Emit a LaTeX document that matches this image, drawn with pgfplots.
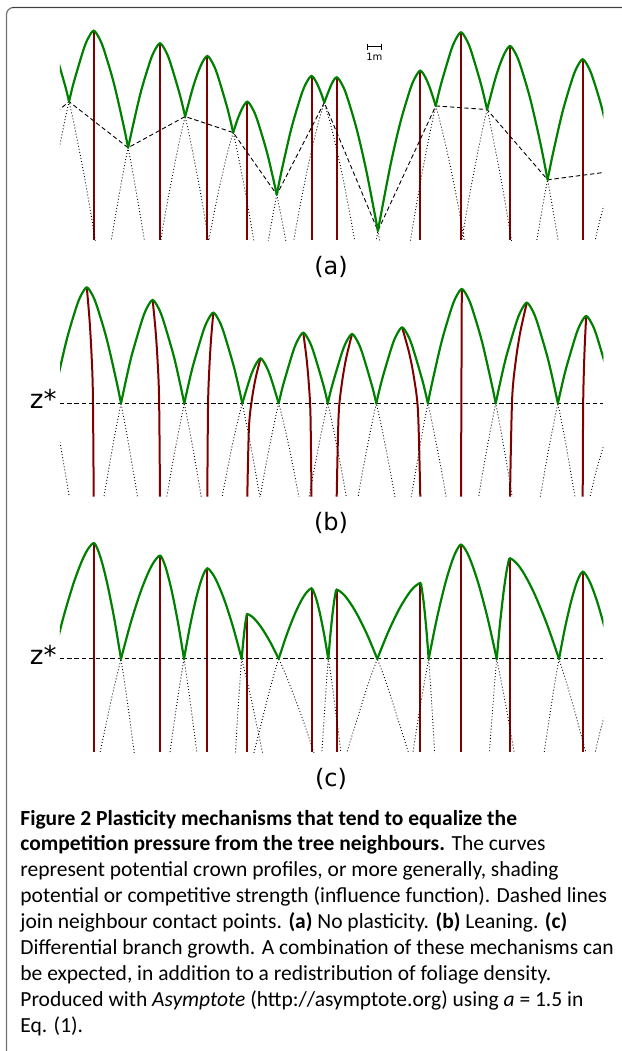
\documentclass[border=0pt]{standalone}
\usepackage{fontspec}
\setmainfont{Carlito}
\newfontfamily\lblfont{DejaVu Sans}
\usepackage{pgfplots}
\pgfplotsset{compat=1.18}
\usepackage{pgfplotstable}

\definecolor{crown}{RGB}{0,128,0}
\definecolor{trunk}{RGB}{128,0,0}

\pgfplotsset{
  panelax/.style={anchor=south west, x=0.5pt, y=0.5pt, y dir=reverse,
    xmin=60, xmax=603.3, ymin=20, ymax=240, hide axis, clip=true},
  dotprof/.style={smooth, no markers, black, line width=0.45pt, dash pattern=on 0.45pt off 1.1pt},
  envline/.style={smooth, no markers, crown, line width=1.1pt, line cap=round},
  stemline/.style={no markers, trunk, line width=1pt},
  contactline/.style={no markers, black, line width=0.45pt, dash pattern=on 2.2pt off 1.4pt},
}

% ---------- panel (a): no plasticity (pixel-like coordinates, y downwards)
\pgfplotstableread{
x y
35 51.6
40 39.8
45 33.3
50 39.8
55 51.6
65 85.2
69.05 101.65
75 128.6
85 180.0
95 238.4
105 302.9
}\tAa
\pgfplotstableread{
x y
33.7 300.3
43.7 235.8
53.7 177.4
63.7 126.0
69.05 101.65
73.7 82.6
83.7 49.0
88.7 37.2
93.7 30.7
98.7 37.2
103.7 49.0
113.7 82.6
123.7 126.0
128.1 147.7
133.7 177.4
143.7 235.8
153.7 300.3
}\tAb
\pgfplotstableread{
x y
100 312.9
110 248.4
120 190.0
128.1 147.7
140 95.2
150 61.6
155 49.8
160 43.3
165 49.8
170 61.6
180 95.2
185.15 116.5
190 138.6
200 190.0
210 248.4
}\tAc
\pgfplotstableread{
x y
147.3 325.6
157.3 261.1
167.3 202.7
177.3 151.3
185.15 116.5
192.3 89.7
197.3 74.3
202.3 62.5
207.3 56
212.3 62.5
217.3 74.3
227.3 107.9
233.2 132.5
237.3 151.3
247.3 202.7
257.3 261.1
}\tAd
\pgfplotstableread{
x y
207.3 248.4
217.3 197.0
227.3 153.6
233.2 132.5
237.3 120.0
242.3 108.2
247.3 101.7
252.3 108.2
257.3 120.0
267.3 153.6
276.8 194.6
287.3 248.4
}\tAe
\pgfplotstableread{
x y
261.5 281.1
271.5 222.7
276.8 194.6
281.5 171.3
291.5 127.9
301.5 94.3
306.5 82.5
311.5 76
316.5 82.5
321.5 94.3
324.3 102.6
331.5 127.9
341.5 171.3
351.5 222.7
361.5 281.1
}\tAf
\pgfplotstableread{
x y
286.7 282.4
296.7 224.0
306.7 172.6
316.7 129.2
324.3 102.6
331.7 83.8
336.7 77.3
341.7 83.8
346.7 95.6
356.7 129.2
366.7 172.6
377.9 230.8
386.7 282.4
}\tAg
\pgfplotstableread{
x y
370.3 275.8
377.9 230.8
390.3 166.0
400.3 122.6
410.3 89.0
415.3 77.2
420.3 70.7
425.3 77.2
430.3 89.0
435.75 105.9
440.3 122.6
450.3 166.0
460.3 217.4
470.3 275.8
}\tAh
\pgfplotstableread{
x y
401 301.9
411 237.4
421 179.0
431 127.6
435.75 105.9
441 84.2
451 50.6
456 38.8
461 32.3
466 38.8
471 50.6
481 84.2
487.1 109.55
491 127.6
501 179.0
511 237.4
521 301.9
}\tAi
\pgfplotstableread{
x y
450 315.6
460 251.1
470 192.7
480 141.3
487.1 109.55
495 79.7
500 64.3
505 52.5
510 46
515 52.5
520 64.3
530 97.9
540 141.3
547.63 179.8
560 251.1
}\tAj
\pgfplotstableread{
x y
532.7 264.4
542.7 206.0
547.63 179.8
552.7 154.6
562.7 111.2
572.7 77.6
577.7 65.8
582.7 59.3
587.7 65.8
592.7 77.6
602.7 111.2
616 170.85
622.7 206.0
632.7 264.4
}\tAk
\pgfplotstableread{
x y
590.7 260.3
600.7 216.9
610.7 183.3
616 170.85
620.7 165
625.7 171.5
}\tAl

% ---------- panel (b): leaning
\pgfplotstableread{
x y
38.95 85.2
48.95 128.6
52.6 146.6
58.95 180.0
68.95 238.4
78.95 302.9
}\tBa
\pgfplotstableread{
x y
26.8 300.3
36.8 235.8
46.8 177.4
52.6 146.6
56.8 126.0
66.8 82.6
76.8 49.0
81.8 37.2
86.8 30.7
91.8 37.2
96.8 49.0
106.8 82.6
116.8 126.0
121.0 146.6
126.8 177.4
136.8 235.8
146.8 300.3
}\tBb
\pgfplotstableread{
x y
92.65 312.9
102.65 248.4
112.65 190.0
121.0 146.6
127.65 115.8
132.65 95.2
142.65 61.6
147.65 49.8
152.65 43.3
157.65 49.8
162.65 61.6
172.65 95.2
177.65 115.8
184.3 146.6
192.65 190.0
202.65 248.4
}\tBc
\pgfplotstableread{
x y
163.3 261.1
173.3 202.7
184.3 146.6
188.3 128.5
193.3 107.9
203.3 74.3
208.3 62.5
213.3 56
218.3 62.5
223.3 74.3
233.3 107.9
238.3 128.5
242.3 146.6
253.3 202.7
263.3 261.1
}\tBd
\pgfplotstableread{
x y
220.5 248.4
230.5 197.0
235.5 174.2
242.3 146.6
250.5 120.0
255.5 108.2
260.5 101.7
265.5 108.2
270.5 120.0
278.7 146.6
285.5 174.2
290.5 197.0
300.5 248.4
}\tBe
\pgfplotstableread{
x y
253.25 281.1
263.25 222.7
273.25 171.3
278.7 146.6
283.25 127.9
293.25 94.3
298.25 82.5
303.25 76
308.25 82.5
313.25 94.3
323.25 127.9
327.8 146.6
333.25 171.3
343.25 222.7
353.25 281.1
}\tBf
\pgfplotstableread{
x y
302.05 282.4
312.05 224.0
322.05 172.6
327.8 146.6
332.05 129.2
342.05 95.6
347.05 83.8
352.05 77.3
357.05 83.8
362.05 95.6
372.05 129.2
376.3 146.6
382.05 172.6
392.05 224.0
402.05 282.4
}\tBg
\pgfplotstableread{
x y
352.1 275.8
362.1 217.4
372.1 166.0
376.3 146.6
382.1 122.6
392.1 89.0
397.1 77.2
402.1 70.7
407.1 77.2
412.1 89.0
422.1 122.6
427.9 146.6
432.1 166.0
442.1 217.4
452.1 275.8
}\tBh
\pgfplotstableread{
x y
401.8 301.9
411.8 237.4
421.8 179.0
427.9 146.6
431.8 127.6
441.8 84.2
451.8 50.6
456.8 38.8
461.8 32.3
466.8 38.8
471.8 50.6
481.8 84.2
491.8 127.6
495.7 146.6
501.8 179.0
511.8 237.4
521.8 301.9
}\tBi
\pgfplotstableread{
x y
466.8 315.6
476.8 251.1
486.8 192.7
495.7 146.6
501.8 118.5
506.8 97.9
516.8 64.3
521.8 52.5
526.8 46
531.8 52.5
536.8 64.3
546.8 97.9
551.8 118.5
557.9 146.6
566.8 192.7
576.8 251.1
}\tBj
\pgfplotstableread{
x y
536.2 264.4
546.2 206.0
551.2 179.4
557.9 146.6
561.2 131.8
566.2 111.2
576.2 77.6
581.2 65.8
586.2 59.3
591.2 65.8
596.2 77.6
606.2 111.2
611.2 131.8
614.5 146.6
626.2 206.0
}\tBk
\pgfplotstableread{
x y
585.5 260.3
595.5 216.9
605.5 183.3
610.5 171.5
615.5 165
620.5 171.5
}\tBl

% ---------- panel (c): differential branch growth
\pgfplotstableread{
x y
32.5 243.6
42.7 192.7
52.9 146.6
63.1 106.0
73.3 71.7
81.46 49.7
87.58 37.4
93.7 30.7
97.8 37.4
101.9 49.7
107.35 71.7
114.2 106.0
121.0 146.6
127.8 192.7
134.65 243.6
}\tCb
\pgfplotstableread{
x y
99.55 242.7
111.25 187.7
121 146.6
130.75 110.4
140.5 79.8
148.3 60.3
154.15 49.3
160 43.3
163.6 49.3
167.2 60.3
172 79.8
178 110.4
184 146.6
190 187.7
197.2 242.7
}\tCc
\pgfplotstableread{
x y
169.55 242.8
178.2 182.6
184 146.6
189.8 114.8
195.65 88.0
200.3 70.9
203.8 61.3
207.3 56
212.46 61.3
217.6 70.9
224.5 88.0
233.1 114.8
241.7 146.6
250.3 182.6
263.0 242.8
}\tCd
\pgfplotstableread{
x y
235.26 243.2
237.5 205.6
240.3 164.4
241.7 146.6
243.1 130.9
244.5 117.6
245.6 109.1
246.46 104.3
247.3 101.7
252.0 104.3
256.7 109.1
263.0 117.6
270.85 130.9
278.7 146.6
286.55 164.4
302.25 205.6
314.8 243.2
}\tCe
\pgfplotstableread{
x y
253.1 243.7
270.5 174.7
278.7 146.6
286.9 121.9
295.1 101.0
301.66 87.6
306.58 80.1
311.5 76
314.0 80.1
316.54 87.6
319.9 101.0
324.1 121.9
328.3 146.6
332.5 174.7
341.4 243.7
}\tCf
\pgfplotstableread{
x y
321.75 241.9
326.2 174.15
328.3 146.6
330.4 122.3
332.5 101.8
334.18 88.7
335.44 81.3
336.7 77.3
342.8 81.3
348.9 88.7
357.0 101.8
367.15 122.3
377.3 146.6
387.45 174.15
409.0 241.9
}\tCg
\pgfplotstableread{
x y
346.3 241.9
366.55 176.8
377.3 146.6
388.05 120.0
398.8 97.5
407.4 83.2
413.85 75.1
420.3 70.7
421.56 75.1
422.8 83.2
424.5 97.5
426.6 120.0
428.7 146.6
430.8 176.8
434.75 241.9
}\tCh
\pgfplotstableread{
x y
412.55 242.3
420.6 192.0
428.7 146.6
436.8 106.5
444.85 72.7
451.3 51.1
456.15 38.9
461 32.3
466.36 38.9
471.7 51.1
478.85 72.7
487.8 106.5
496.7 146.6
505.6 192.0
514.55 242.3
}\tCi
\pgfplotstableread{
x y
489.25 242.0
493.4 186.6
496.7 146.6
500.0 111.3
503.35 81.6
506.0 62.5
508.0 51.8
510 46
517.35 51.8
524.7 62.5
534.5 81.6
546.75 111.3
559 146.6
571.25 186.6
586.4 242.0
}\tCj
\pgfplotstableread{
x y
543.8 242.6
553.1 181.3
559 146.6
564.9 116.0
570.85 90.2
575.6 73.6
579.15 64.4
582.7 59.3
587.1 64.4
591.55 73.6
597.45 90.2
604.8 116.0
612.2 146.6
619.6 181.3
631.1 242.6
}\tCk
\pgfplotstableread{
x y
590.7 260.3
600.7 216.9
610.7 183.3
620.7 165
630.7 183.3
}\tCl

\newcommand\capfont{\fontsize{10.75}{13}\selectfont}

\begin{document}
\begin{tikzpicture}

% ----- (a): axis box spans x 60..603.3, y 20..240 (pixels of the reference)
\begin{axis}[panelax, at={(30pt,-120pt)}]
  \addplot[stemline, unbounded coords=jump] coordinates {
    (93.7,30.7) (93.7,240) (93.7,nan)
    (160,43.3) (160,240) (160,nan)
    (207.3,56) (207.3,240) (207.3,nan)
    (247.3,101.7) (247.3,240) (247.3,nan)
    (311.5,76) (311.5,240) (311.5,nan)
    (336.7,77.3) (336.7,240) (336.7,nan)
    (420.3,70.7) (420.3,240) (420.3,nan)
    (461,32.3) (461,240) (461,nan)
    (510,46) (510,240) (510,nan)
    (582.7,59.3) (582.7,240)
  };
  \addplot[dotprof] table {\tAa};
  \addplot[dotprof] table {\tAb};
  \addplot[dotprof] table {\tAc};
  \addplot[dotprof] table {\tAd};
  \addplot[dotprof] table {\tAe};
  \addplot[dotprof] table {\tAf};
  \addplot[dotprof] table {\tAg};
  \addplot[dotprof] table {\tAh};
  \addplot[dotprof] table {\tAi};
  \addplot[dotprof] table {\tAj};
  \addplot[dotprof] table {\tAk};
  \addplot[dotprof] table {\tAl};
  \addplot[contactline] coordinates {
    (40,125.6) (69.05,101.65) (128.1,147.7) (185.15,116.5) (233.2,132.5)
    (276.8,194.6) (324.3,102.6) (377.9,230.8) (435.75,105.9) (487.1,109.55)
    (547.63,179.8) (616,170.85)
  };
  \addplot[envline, restrict x to domain=30:69.06] table {\tAa};
  \addplot[envline, restrict x to domain=69.04:128.11] table {\tAb};
  \addplot[envline, restrict x to domain=128.09:185.16] table {\tAc};
  \addplot[envline, restrict x to domain=185.14:233.21] table {\tAd};
  \addplot[envline, restrict x to domain=233.19:276.81] table {\tAe};
  \addplot[envline, restrict x to domain=276.79:324.31] table {\tAf};
  \addplot[envline, restrict x to domain=324.29:377.91] table {\tAg};
  \addplot[envline, restrict x to domain=377.89:435.76] table {\tAh};
  \addplot[envline, restrict x to domain=435.74:487.11] table {\tAi};
  \addplot[envline, restrict x to domain=487.09:547.64] table {\tAj};
  \addplot[envline, restrict x to domain=547.62:616.01] table {\tAk};
\end{axis}

% ----- (b): shifted down by 256.7 px
\begin{axis}[panelax, at={(30pt,-248.35pt)}]
  \addplot[stemline, smooth] coordinates {(93.7,240) (92.84,135.35) (91.33,93.5) (89.46,62.1) (86.8,30.7)};
  \addplot[stemline, smooth] coordinates {(160,240) (159.08,141.65) (157.48,102.3) (155.49,72.8) (152.65,43.3)};
  \addplot[stemline, smooth] coordinates {(207.3,240) (208.05,148) (209.36,111.2) (210.98,83.6) (213.3,56)};
  \addplot[stemline, smooth] coordinates {(247.3,240) (248.95,170.85) (251.83,143.2) (255.4,122.4) (260.5,101.7)};
  \addplot[stemline, smooth] coordinates {(311.5,240) (310.47,158) (308.67,125.2) (306.43,100.6) (303.25,76)};
  \addplot[stemline, smooth] coordinates {(336.7,240) (338.62,158.65) (341.97,126.1) (346.12,101.7) (352.05,77.3)};
  \addplot[stemline, smooth] coordinates {(420.3,240) (418.03,155.35) (414.06,121.5) (409.13,96.1) (402.1,70.7)};
  \addplot[stemline] coordinates {(461,240) (461.8,32.3)};
  \addplot[stemline, smooth] coordinates {(510,240) (512.1,143) (515.76,104.2) (520.32,75.1) (526.8,46)};
  \addplot[stemline, smooth] coordinates {(582.7,240) (583.14,149.65) (583.9,113.5) (584.85,86.4) (586.2,59.3)};
  \addplot[dotprof] table {\tBa};
  \addplot[dotprof] table {\tBb};
  \addplot[dotprof] table {\tBc};
  \addplot[dotprof] table {\tBd};
  \addplot[dotprof] table {\tBe};
  \addplot[dotprof] table {\tBf};
  \addplot[dotprof] table {\tBg};
  \addplot[dotprof] table {\tBh};
  \addplot[dotprof] table {\tBi};
  \addplot[dotprof] table {\tBj};
  \addplot[dotprof] table {\tBk};
  \addplot[dotprof] table {\tBl};
  \addplot[contactline] coordinates {(60,146.6) (603.3,146.6)};
  \addplot[envline, restrict x to domain=52.59:121.01] table {\tBb};
  \addplot[envline, restrict x to domain=120.99:184.31] table {\tBc};
  \addplot[envline, restrict x to domain=184.29:242.31] table {\tBd};
  \addplot[envline, restrict x to domain=242.29:278.71] table {\tBe};
  \addplot[envline, restrict x to domain=278.69:327.81] table {\tBf};
  \addplot[envline, restrict x to domain=327.79:376.31] table {\tBg};
  \addplot[envline, restrict x to domain=376.29:427.91] table {\tBh};
  \addplot[envline, restrict x to domain=427.89:495.71] table {\tBi};
  \addplot[envline, restrict x to domain=495.69:557.91] table {\tBj};
  \addplot[envline, restrict x to domain=557.89:640] table {\tBk};
\end{axis}

% ----- (c): shifted down by 512.3 px
\begin{axis}[panelax, at={(30pt,-376.15pt)}]
  \addplot[stemline, unbounded coords=jump] coordinates {
    (93.7,30.7) (93.7,240) (93.7,nan)
    (160,43.3) (160,240) (160,nan)
    (207.3,56) (207.3,240) (207.3,nan)
    (247.3,101.7) (247.3,240) (247.3,nan)
    (311.5,76) (311.5,240) (311.5,nan)
    (336.7,77.3) (336.7,240) (336.7,nan)
    (420.3,70.7) (420.3,240) (420.3,nan)
    (461,32.3) (461,240) (461,nan)
    (510,46) (510,240) (510,nan)
    (582.7,59.3) (582.7,240)
  };
  \addplot[dotprof] table {\tCb};
  \addplot[dotprof] table {\tCc};
  \addplot[dotprof] table {\tCd};
  \addplot[dotprof] table {\tCe};
  \addplot[dotprof] table {\tCf};
  \addplot[dotprof] table {\tCg};
  \addplot[dotprof] table {\tCh};
  \addplot[dotprof] table {\tCi};
  \addplot[dotprof] table {\tCj};
  \addplot[dotprof] table {\tCk};
  \addplot[dotprof] table {\tCl};
  \addplot[contactline] coordinates {(60,146.6) (603.3,146.6)};
  \addplot[envline, restrict x to domain=52.89:121.01] table {\tCb};
  \addplot[envline, restrict x to domain=120.99:184.01] table {\tCc};
  \addplot[envline, restrict x to domain=183.99:241.71] table {\tCd};
  \addplot[envline, restrict x to domain=241.69:278.71] table {\tCe};
  \addplot[envline, restrict x to domain=278.69:328.31] table {\tCf};
  \addplot[envline, restrict x to domain=328.29:377.31] table {\tCg};
  \addplot[envline, restrict x to domain=377.29:428.71] table {\tCh};
  \addplot[envline, restrict x to domain=428.69:496.71] table {\tCi};
  \addplot[envline, restrict x to domain=496.69:559.01] table {\tCj};
  \addplot[envline, restrict x to domain=558.99:640] table {\tCk};
\end{axis}

% ----- frame, labels and caption (1 unit = 1 pixel of the reference)
\begin{scope}[x=0.5pt, y=-0.5pt]
  \draw[black!55, line width=0.6pt, rounded corners=3.5pt] (6.5,1070) -- (6.5,7.5) -- (640,7.5);
  \draw[black!75, line width=0.8pt] (12,7.3) -- (640,7.3);
  \draw[black, line width=0.35pt] (367.7,43.7) -- (367.7,49.7) (367.7,46.7) -- (381,46.7) (381,43.7) -- (381,49.7);
  \node[font=\lblfont\fontsize{5}{6}\selectfont, inner sep=0] at (374.3,57) {1m};
  \node[font=\lblfont\fontsize{12}{14}\selectfont] at (331,267) {(a)};
  \node[font=\lblfont\fontsize{12}{14}\selectfont] at (331,523) {(b)};
  \node[font=\lblfont\fontsize{12}{14}\selectfont] at (331,779) {(c)};
  \node[font=\lblfont\fontsize{13}{15}\selectfont, anchor=base east, inner sep=0] at (57,408) {z*};
  \node[font=\lblfont\fontsize{13}{15}\selectfont, anchor=base east, inner sep=0] at (57,664) {z*};
  \begin{scope}[every node/.style={anchor=base west, inner sep=0, font=\capfont}]
    \node at (20,825) {\textbf{Figure 2 Plasticity mechanisms that tend to equalize the}};
    \node at (20,850.9) {\textbf{competition pressure from the tree neighbours.} The curves};
    \node at (20,876.8) {represent potential crown profiles, or more generally, shading};
    \node at (20,902.7) {potential or competitive strength (influence function). Dashed lines};
    \node at (20,928.6) {join neighbour contact points. \textbf{(a)} No plasticity. \textbf{(b)} Leaning. \textbf{(c)}};
    \node at (20,954.5) {Differential branch growth. A combination of these mechanisms can};
    \node at (20,980.4) {be expected, in addition to a redistribution of foliage density.};
    \node at (20,1006.3) {Produced with \textit{Asymptote} (http://asymptote.org) using \textit{a} = 1.5 in};
    \node at (20,1032.2) {Eq. (1).};
  \end{scope}
\end{scope}

\pgfresetboundingbox
\useasboundingbox (0,0) rectangle (311pt,-525.5pt);
\end{tikzpicture}
\end{document}
